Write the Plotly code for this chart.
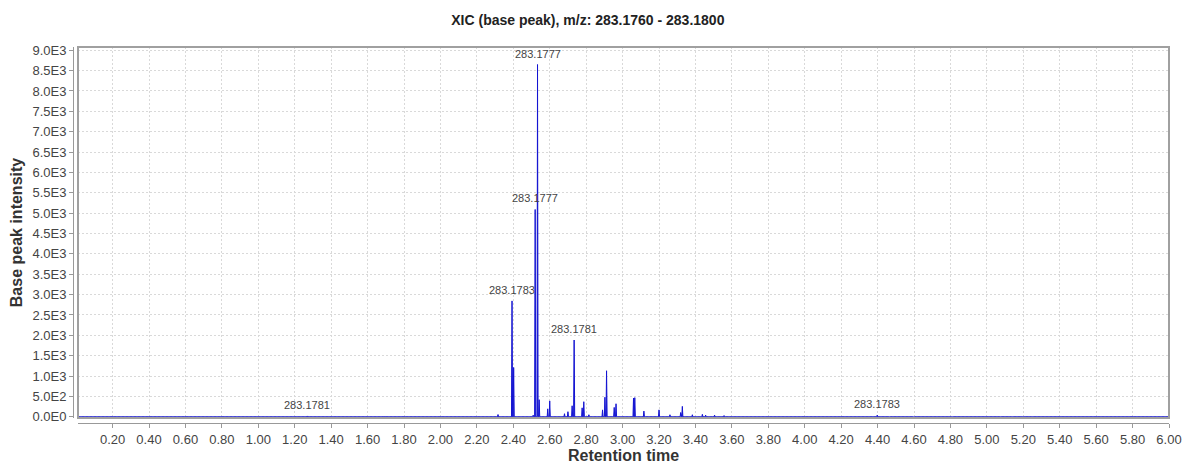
import plotly.graph_objects as go

# Extracted ion chromatogram, m/z 283.1760 - 283.1800
peak_rt = [0.01, 1.270, 1.692, 1.829, 2.316, 2.393, 2.402, 2.509, 2.520, 2.533,
           2.542, 2.589, 2.600, 2.681, 2.700, 2.723, 2.734, 2.778, 2.787, 2.815,
           2.890, 2.903, 2.912, 2.954, 2.964, 3.060, 3.067, 3.117, 3.200, 3.260,
           3.319, 3.328, 3.383, 3.438, 3.456, 3.505, 3.557, 3.800, 3.940, 4.320,
           4.398, 4.470, 4.600, 4.810, 5.070, 5.140, 5.200, 5.250, 6.00]
peak_int = [0, 20, 15, 10, 55, 2845, 1210, 40, 5090, 8650,
            420, 195, 390, 75, 125, 270, 1885, 220, 370, 50,
            170, 480, 1130, 230, 320, 460, 470, 140, 170, 50,
            105, 255, 50, 60, 40, 40, 30, 8, 8, 10,
            40, 10, 8, 12, 8, 10, 8, 8, 0]

# Annotated peaks (retention time, m/z label)
label_rt = [2.533, 2.520, 2.393, 2.734, 1.270, 4.398]
label_text = ["283.1777", "283.1777", "283.1783", "283.1781", "283.1781", "283.1783"]

y_tickvals = [0, 500, 1000, 1500, 2000, 2500, 3000, 3500, 4000, 4500,
              5000, 5500, 6000, 6500, 7000, 7500, 8000, 8500, 9000]
y_ticktext = ["0.0E0", "5.0E2", "1.0E3", "1.5E3", "2.0E3", "2.5E3", "3.0E3", "3.5E3",
              "4.0E3", "4.5E3", "5.0E3", "5.5E3", "6.0E3", "6.5E3", "7.0E3", "7.5E3",
              "8.0E3", "8.5E3", "9.0E3"]
x_tickvals = [round(0.2 * i, 2) for i in range(1, 31)]
x_ticktext = ["%.2f" % v for v in x_tickvals]

# Build narrow spikes from the centroid list
half_w = 0.003
xs, ys = [], []
for rt, it in zip(peak_rt, peak_int):
    if it == 0:
        xs.append(rt); ys.append(0)
    else:
        xs += [rt - half_w, rt, rt + half_w]
        ys += [0, it, 0]

fig = go.Figure()
fig.add_trace(go.Scatter(
    x=xs, y=ys, mode="lines",
    line=dict(color="rgb(20,20,210)", width=1),
    fill="tozeroy", fillcolor="rgba(0,0,200,0.8)",
    hoverinfo="skip", showlegend=False,
))

lookup = dict(zip(peak_rt, peak_int))
for rt, txt in zip(label_rt, label_text):
    fig.add_annotation(
        x=rt, y=lookup[rt], text=txt, showarrow=False,
        yanchor="middle", xanchor="center", yshift=11,
        font=dict(family="Liberation Sans", size=11, color="#444444"),
    )

# Plot frame
fig.add_shape(type="rect", xref="x domain", yref="y domain",
              x0=0, x1=1, y0=0, y1=1,
              line=dict(color="#a0a0a0", width=2), layer="above")

W, H = 1184, 464
ml, mr, mt, mb = 73, 15, 47, 41
pw, ph = W - ml - mr, H - mt - mb
gap = 5

fig.update_layout(
    width=W, height=H,
    margin=dict(l=ml, r=mr, t=mt, b=mb, autoexpand=False),
    paper_bgcolor="white", plot_bgcolor="white",
    font=dict(family="Liberation Sans", color="#444444"),
    title=dict(text="<b>XIC (base peak), m/z: 283.1760 - 283.1800</b>",
               x=0.4965, xanchor="center", y=1 - 20 / H, yanchor="middle",
               font=dict(family="Liberation Sans", size=14, color="#222222")),
    xaxis=dict(
        domain=[gap / pw, 1], anchor="free", position=0, automargin=False,
        range=[0.01, 6.0],
        tickmode="array", tickvals=x_tickvals, ticktext=x_ticktext,
        ticks="outside", ticklen=4, tickcolor="#999999",
        tickfont=dict(size=13, color="#444444"),
        showline=True, linecolor="#999999", linewidth=1,
        showgrid=True, gridcolor="#d9d9d9", griddash="2px,2px", gridwidth=1,
        zeroline=False,
        title=dict(text="<b>Retention time</b>", standoff=5,
                   font=dict(size=16, color="#333333")),
    ),
    yaxis=dict(
        domain=[gap / ph, 1], anchor="free", position=0, automargin=False,
        range=[-30, 9080],
        tickmode="array", tickvals=y_tickvals, ticktext=y_ticktext,
        ticks="outside", ticklen=4, tickcolor="#999999",
        tickfont=dict(size=13, color="#444444"),
        showline=True, linecolor="#999999", linewidth=1,
        showgrid=True, gridcolor="#d9d9d9", griddash="2px,2px", gridwidth=1,
        zeroline=False,
        title=dict(text="<b>Base peak intensity</b>", standoff=4,
                   font=dict(size=16, color="#333333")),
    ),
)

fig.write_html("out.html")
